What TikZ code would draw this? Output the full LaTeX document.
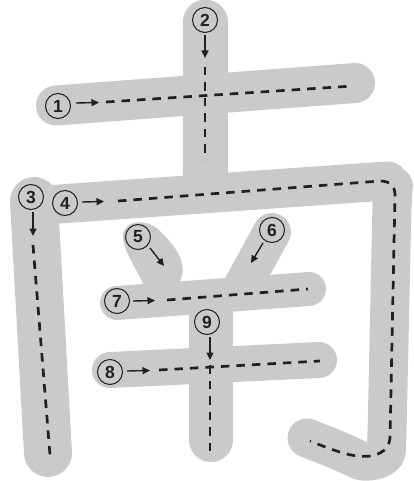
\documentclass[tikz,border=0pt]{standalone}
\usepackage{fontspec}
\setsansfont{Liberation Sans}
\usetikzlibrary{arrows.meta}
\definecolor{bandgray}{RGB}{201,202,202}
\definecolor{ink}{RGB}{35,31,32}
\tikzset{
  band/.style={draw=bandgray, line cap=round, line join=round},
  guide/.style={draw=ink, line width=2.7pt, dash pattern=on 8.5pt off 7pt},
  dirarrow/.style={draw=ink, line width=1.4pt, -{Triangle[length=7.5pt,width=7pt]}},
  num/.style={circle, draw=ink, line width=1pt, minimum size=25pt, inner sep=0pt,
    font=\sffamily\bfseries\fontsize{17.5}{17.5}\selectfont, text=ink}
}
\begin{document}
\begin{tikzpicture}[x=1pt,y=-1pt]
\useasboundingbox (0,0) rectangle (414,481);
% gray strokes
\draw[band, line width=40pt] (56,105.5) -- (355,83);
\draw[band, line width=45pt] (205,22) -- (205,185);
\draw[band, line width=48pt] (34,201) -- (48,453);
\draw[band, line width=39pt, rounded corners=16pt] (45,205) -- (372,182) .. controls (388,181) and (393,190) .. (392,202) -- (387,435) .. controls (386,460) and (365,463) .. (345,453) -- (307,438);
\fill[bandgray] (123,238) .. controls (121,221) and (145,217) .. (159,230) .. controls (171,242) and (186,258) .. (182,275) -- (178,290) -- (146,290) .. controls (138,270) and (125,255) .. (123,238) -- cycle;
\draw[band, line width=38pt] (272,232) -- (243,285);
\draw[band, line width=34pt] (117,303) -- (309,289);
\draw[band, line width=44pt] (211,312) -- (211,440);
\draw[band, line width=36pt] (110,370) -- (319,360);
% dashed guides
\draw[guide] (106,102) -- (353,86);
\draw[guide] (205,67) -- (205,160);
\draw[guide] (33,245) -- (50,455);
\draw[guide] (118,201) -- (380,181) .. controls (390,181) and (395,186) .. (395,195) -- (390,438) .. controls (389,452) and (375,458) .. (358,456) .. controls (345,455) and (325,447) .. (310,441);
\draw[guide] (167,300) -- (308,289);
\draw[guide] (159,370) -- (320,361);
\draw[guide] (210,365) -- (210,457);
% arrows
\coordinate (a1s) at (76,103); \coordinate (a1e) at (99,102.5);
\coordinate (a2s) at (205,35); \coordinate (a2e) at (205,58);
\coordinate (a3s) at (33,212); \coordinate (a3e) at (33,236);
\coordinate (a4s) at (82,202); \coordinate (a4e) at (104,201.5);
\coordinate (a5s) at (150,248); \coordinate (a5e) at (164,266);
\coordinate (a6s) at (263,243); \coordinate (a6e) at (251,263);
\coordinate (a7s) at (133,301); \coordinate (a7e) at (155,300.5);
\coordinate (a8s) at (127,371); \coordinate (a8e) at (150,370.5);
\coordinate (a9s) at (210,337); \coordinate (a9e) at (210,360);
\foreach \i in {1,...,9} {\draw[dirarrow] (a\i s) -- (a\i e);}
% numbers
\node[num] (n1) at (58,106) {1};
\node[num] (n2) at (205,20) {2};
\node[num] (n3) at (31,197) {3};
\node[num] (n4) at (65,203) {4};
\node[num] (n5) at (138,237) {5};
\node[num] (n6) at (272,230) {6};
\node[num] (n7) at (117,301) {7};
\node[num] (n8) at (110,372) {8};
\node[num] (n9) at (207,322) {9};
\end{tikzpicture}
\end{document}
